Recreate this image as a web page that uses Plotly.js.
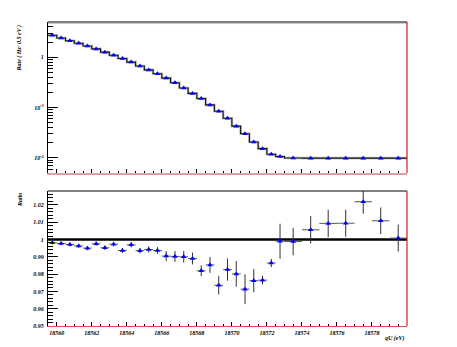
<!DOCTYPE html>
<html>
<head>
<meta charset="utf-8">
<script src="https://cdn.plot.ly/plotly-3.0.1.min.js"></script>
<style>
  html, body { margin: 0; padding: 0; background: #fff; }
  #chart { width: 457px; height: 347px; }
</style>
</head>
<body>
<div id="chart"></div>
<script>
// bin edges in qU (eV): 0.5 eV bins up to 18573, then 1 eV bins
const binEdges = [
  18559.5, 18560, 18560.5, 18561, 18561.5, 18562, 18562.5, 18563, 18563.5,
  18564, 18564.5, 18565, 18565.5, 18566, 18566.5, 18567, 18567.5, 18568,
  18568.5, 18569, 18569.5, 18570, 18570.5, 18571, 18571.5, 18572, 18572.5,
  18573, 18574, 18575, 18576, 18577, 18578, 18579, 18580
];

// rate per bin (Hz / 0.5 eV)
const rate = [
  2.72, 2.40, 2.12, 1.89, 1.67, 1.46, 1.26, 1.09, 0.94, 0.80, 0.67, 0.56, 0.47,
  0.385, 0.311, 0.245, 0.191, 0.151, 0.113, 0.0845, 0.0615, 0.0428, 0.0303,
  0.0207, 0.0153, 0.0118, 0.0107, 0.0100,
  0.0099, 0.0099, 0.0099, 0.0099, 0.0099, 0.0099
];

// ratio data / model and its error, lower panel
const ratio = [
  0.9981, 0.9977, 0.9971, 0.9963, 0.9950, 0.9975, 0.9952, 0.9973, 0.9936,
  0.9969, 0.9935, 0.9942, 0.9936, 0.9904, 0.9902, 0.9900, 0.9890, 0.9819,
  0.9853, 0.9735, 0.9826, 0.9801, 0.9713, 0.9762, 0.9765, 0.9864,
  0.9990, 0.9988, 1.0056, 1.0093, 1.0094, 1.0218, 1.0108, 1.0008
];
const ratioErr = [
  0.0010, 0.0010, 0.0011, 0.0011, 0.0012, 0.0012, 0.0013, 0.0013, 0.0014,
  0.0015, 0.0016, 0.0017, 0.0020, 0.0029, 0.0031, 0.0034, 0.0034, 0.0031,
  0.0046, 0.0053, 0.0064, 0.0074, 0.0086, 0.0067, 0.0025, 0.0024,
  0.0101, 0.0079, 0.0079, 0.0079, 0.0078, 0.0069, 0.0077, 0.0078
];

const qUTickVals = [18560, 18562, 18564, 18566, 18568, 18570, 18572, 18574, 18576, 18578];
const rateTickVals = [0.01, 0.1, 1];
const rateTickText = ["10<sup>-2</sup>", "10<sup>-1</sup>", "1"];
const refLevel = 1;

const centers = [];
const halfWidths = [];
for (let i = 0; i < binEdges.length - 1; i++) {
  centers.push((binEdges[i] + binEdges[i + 1]) / 2);
  halfWidths.push((binEdges[i + 1] - binEdges[i]) / 2);
}
// step histogram: one y per edge, last bin repeated
const stepY = rate.concat([rate[rate.length - 1]]);

const font = { family: "Liberation Serif", size: 6, color: "#000", style: "italic", weight: "bold" };

const traces = [
  {
    x: binEdges, y: stepY, xaxis: "x", yaxis: "y",
    mode: "lines", line: { shape: "hv", color: "#c4c4c4", width: 2.6 },
    hoverinfo: "skip", showlegend: false
  },
  {
    x: binEdges, y: stepY, xaxis: "x", yaxis: "y",
    mode: "lines", line: { shape: "hv", color: "#111", width: 1.1 },
    showlegend: false
  },
  {
    x: centers, y: rate, xaxis: "x", yaxis: "y",
    mode: "markers", marker: { symbol: "triangle-up", size: 5, color: "#0000ff" },
    showlegend: false
  },
  {
    x: centers, y: ratio, xaxis: "x2", yaxis: "y2",
    mode: "markers", marker: { symbol: "triangle-up", size: 5, color: "#0000ff" },
    error_y: { type: "data", array: ratioErr, visible: true, color: "#333", thickness: 1, width: 0 },
    error_x: { type: "data", array: halfWidths, visible: true, color: "#555", thickness: 1, width: 0 },
    showlegend: false
  }
];

const xMinor = { ticks: "inside", ticklen: 2, tickcolor: "#000", tick0: 18559.5, dtick: 0.5, showgrid: false };

const layout = {
  width: 457,
  height: 347,
  margin: { l: 48, r: 50, t: 22, b: 21, pad: 0 },
  paper_bgcolor: "#fff",
  plot_bgcolor: "#fff",
  font: font,
  xaxis: {
    domain: [0, 1], anchor: "y", range: [18559.5, 18580],
    showticklabels: false, showgrid: false, zeroline: false,
    tickmode: "array", tickvals: qUTickVals,
    ticks: "inside", ticklen: 4, tickcolor: "#000",
    minor: xMinor,
    showline: true, linecolor: "#dca0a0", linewidth: 2
  },
  yaxis: {
    domain: [0.503, 1], anchor: "x", type: "log",
    range: [Math.log10(0.005), Math.log10(5)],
    tickmode: "array", tickvals: rateTickVals, ticktext: rateTickText,
    ticks: "inside", ticklen: 10, tickcolor: "#000",
    minor: { ticks: "inside", ticklen: 5, tickcolor: "#000", dtick: "D1", showgrid: false },
    showgrid: false, zeroline: false,
    showline: true, linecolor: "#000", linewidth: 1,
    tickfont: font, ticklabelstandoff: 2
  },
  xaxis2: {
    domain: [0, 1], anchor: "y2", range: [18559.5, 18580],
    showgrid: false, zeroline: false,
    tickmode: "array", tickvals: qUTickVals, tickformat: "d",
    ticks: "inside", ticklen: 4, tickcolor: "#000",
    minor: xMinor,
    showline: true, linecolor: "#e05050", linewidth: 1,
    tickfont: font, ticklabelstandoff: 1
  },
  yaxis2: {
    domain: [0, 0.444], anchor: "x2", range: [0.95, 1.028],
    tick0: 0.95, dtick: 0.01,
    ticks: "inside", ticklen: 10, tickcolor: "#000",
    minor: { ticks: "inside", ticklen: 5, tickcolor: "#000", dtick: 0.002, showgrid: false },
    showgrid: false, zeroline: false,
    showline: true, linecolor: "#000", linewidth: 1,
    tickfont: font, ticklabelstandoff: 2
  },
  shapes: [
    // frame tops and right edges
    { type: "line", xref: "paper", yref: "paper", x0: 0, x1: 1, y0: 1, y1: 1, line: { color: "#000", width: 1.2 } },
    { type: "line", xref: "paper", yref: "paper", x0: 0, x1: 1, y0: 0.995, y1: 0.995, line: { color: "#cccccc", width: 1 } },
    { type: "line", xref: "paper", yref: "paper", x0: 1, x1: 1, y0: 0.503, y1: 1, line: { color: "#cc2222", width: 1.2 } },
    { type: "line", xref: "paper", yref: "paper", x0: 0, x1: 1, y0: 0.444, y1: 0.444, line: { color: "#000", width: 1.2 } },
    { type: "line", xref: "paper", yref: "paper", x0: 1, x1: 1, y0: 0, y1: 0.444, line: { color: "#cc2222", width: 1.2 } },
    // reference line at ratio = 1
    { type: "line", xref: "x2 domain", yref: "y2", x0: 0, x1: 1, y0: refLevel, y1: refLevel, line: { color: "#000", width: 2.5 }, layer: "below" }
  ],
  annotations: [
    {
      text: "Rate ( Hz/ 0.5 eV )", xref: "paper", yref: "paper",
      x: -0.078, y: 1, xanchor: "center", yanchor: "top", textangle: -90,
      showarrow: false, font: Object.assign({}, font, { size: 6 })
    },
    {
      text: "Ratio", xref: "paper", yref: "paper",
      x: -0.078, y: 0.444, xanchor: "center", yanchor: "top", textangle: -90,
      showarrow: false, font: Object.assign({}, font, { size: 6 })
    },
    {
      text: "qU (eV)", xref: "paper", yref: "paper",
      x: 1, y: -0.04, xanchor: "right", yanchor: "middle",
      showarrow: false, font: Object.assign({}, font, { size: 6 })
    }
  ]
};

Plotly.newPlot("chart", traces, layout, { staticPlot: true, displayModeBar: false });
</script>
</body>
</html>
